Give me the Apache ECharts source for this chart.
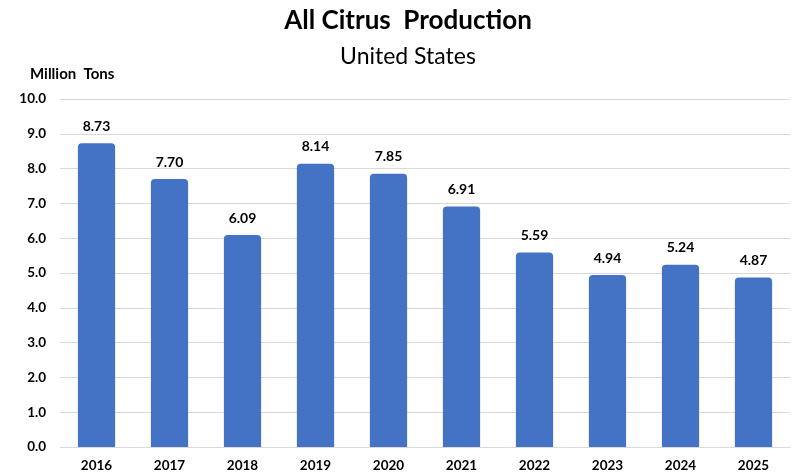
<!DOCTYPE html>
<html>
<head>
<meta charset="utf-8">
<script src="https://cdn.jsdelivr.net/npm/echarts@6/dist/echarts.min.js"></script>
<style>html,body{margin:0;padding:0;background:#fff}#c{width:792px;height:475px}</style>
</head>
<body>
<div id="c"></div>
<script>
const years = ['2016','2017','2018','2019','2020','2021','2022','2023','2024','2025'];
const production = [8.73, 7.70, 6.09, 8.14, 7.85, 6.91, 5.59, 4.94, 5.24, 4.87];
const yTicks = {min: 0, max: 10, interval: 1};

const chart = echarts.init(document.getElementById('c'));
const FONT = 'Lato';
chart.setOption({
  animation: false,
  backgroundColor: '#fff',
  title: [
    {text: 'All Citrus  Production', left: 403, top: 3, textAlign: 'center',
     textStyle: {fontFamily: FONT, fontWeight: 'bold', fontSize: 26, color: '#000'}},
    {text: 'United States', left: 403, top: 40, textAlign: 'center',
     textStyle: {fontFamily: FONT, fontWeight: 'normal', fontSize: 23, color: '#000'}},
    {text: 'Million  Tons', left: 25, top: 62,
     textStyle: {fontFamily: FONT, fontWeight: 'bold', fontSize: 15, color: '#000'}}
  ],
  grid: {left: 60, right: 2, top: 99, bottom: 28},
  xAxis: {
    type: 'category', data: years,
    axisLine: {show: true, lineStyle: {color: '#d9d9d9'}},
    axisTick: {show: false},
    axisLabel: {fontFamily: FONT, fontWeight: 'bold', fontSize: 13.5, color: '#000', margin: 12}
  },
  yAxis: {
    type: 'value', min: yTicks.min, max: yTicks.max, interval: yTicks.interval,
    axisLine: {show: false}, axisTick: {show: false},
    splitLine: {lineStyle: {color: '#d9d9d9', width: 1}},
    axisLabel: {fontFamily: FONT, fontWeight: 'bold', fontSize: 13.5, color: '#000', margin: 14,
      formatter: v => v.toFixed(1)}
  },
  series: [{
    type: 'bar', data: production, barCategoryGap: '49%',
    itemStyle: {color: '#4472C4', borderRadius: [4,4,0,0]},
    label: {show: true, position: 'top', distance: 10, fontFamily: FONT, fontWeight: 'bold', fontSize: 14, color: '#000',
      formatter: p => p.value.toFixed(2)}
  }]
});
</script>
</body>
</html>
